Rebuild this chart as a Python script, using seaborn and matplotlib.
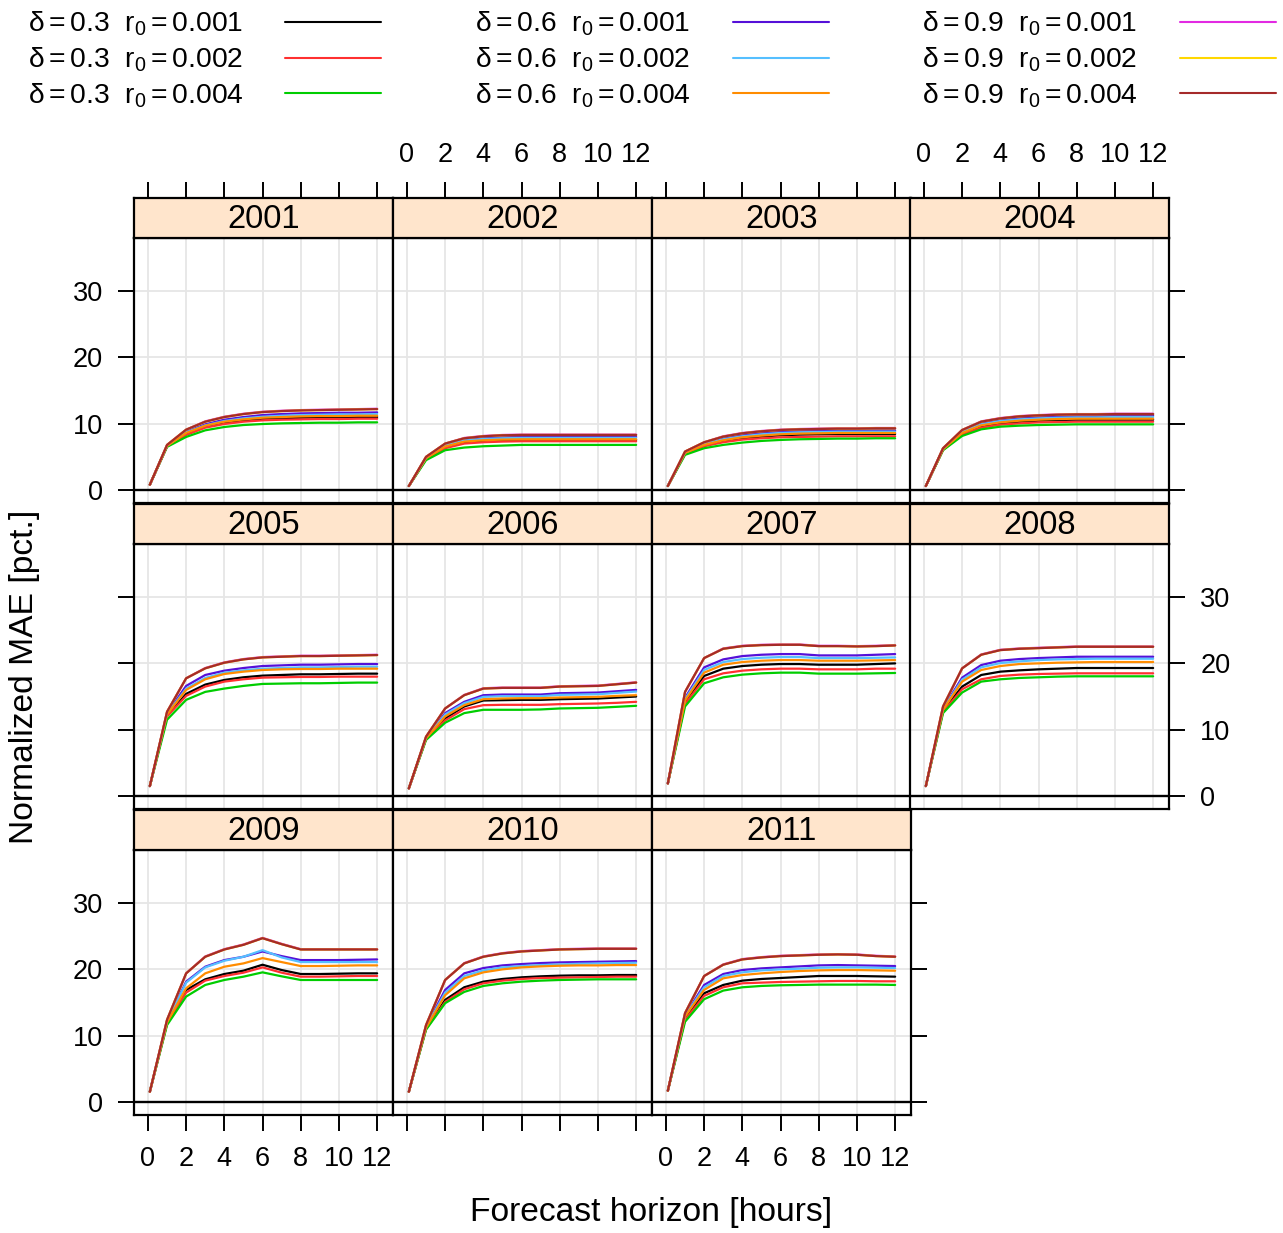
import numpy as np
import pandas as pd
import matplotlib
matplotlib.use("Agg")
import matplotlib.pyplot as plt
import seaborn as sns
from matplotlib.lines import Line2D

# ---------------- data ----------------
hours = [0.1, 1, 2, 3, 4, 5, 6, 7, 8, 9, 10, 11, 12]
years = [2001, 2002, 2003, 2004, 2005, 2006, 2007, 2008, 2009, 2010, 2011]
deltas = ["0.3", "0.3", "0.3", "0.6", "0.6", "0.6", "0.9", "0.9", "0.9"]
r0s = ["0.001", "0.002", "0.004", "0.001", "0.002", "0.004", "0.001", "0.002", "0.004"]
colors = ["#000000", "#FF3030", "#00CD00", "#5510D8", "#55BFFF", "#FF8C00",
          "#E22AE2", "#FFD700", "#A52A2A"]

# order of rows in each year: black, red, green, blue, lightblue, orange, magenta, gold, brown
mae_2001 = [
    [0.8, 6.6, 8.5, 9.6, 10.2, 10.5, 10.75, 10.85, 10.9, 10.95, 10.95, 11.0, 11.0],
    [0.8, 6.6, 8.3, 9.4, 9.95, 10.3, 10.5, 10.6, 10.65, 10.7, 10.7, 10.75, 10.75],
    [0.8, 6.5, 8.0, 9.0, 9.5, 9.8, 9.95, 10.05, 10.1, 10.15, 10.15, 10.2, 10.2],
    [0.8, 6.7, 8.8, 9.9, 10.6, 11.0, 11.3, 11.45, 11.55, 11.6, 11.65, 11.65, 11.7],
    [0.8, 6.7, 8.7, 9.75, 10.4, 10.8, 11.05, 11.2, 11.3, 11.35, 11.4, 11.4, 11.45],
    [0.8, 6.65, 8.6, 9.7, 10.3, 10.65, 10.9, 11.0, 11.1, 11.15, 11.15, 11.2, 11.2],
    [0.8, 6.8, 9.1, 10.35, 11.05, 11.5, 11.8, 11.95, 12.05, 12.1, 12.15, 12.2, 12.25],
    [0.8, 6.8, 9.1, 10.3, 11.0, 11.45, 11.75, 11.9, 12.0, 12.05, 12.1, 12.15, 12.2],
    [0.8, 6.8, 9.1, 10.3, 11.0, 11.45, 11.75, 11.9, 12.0, 12.05, 12.1, 12.15, 12.2],
]
mae_2002 = [
    [0.6, 4.75, 6.45, 7.15, 7.4, 7.5, 7.55, 7.55, 7.55, 7.55, 7.55, 7.55, 7.55],
    [0.6, 4.7, 6.3, 7.0, 7.2, 7.3, 7.35, 7.35, 7.35, 7.35, 7.35, 7.35, 7.35],
    [0.6, 4.5, 6.0, 6.4, 6.6, 6.7, 6.8, 6.8, 6.8, 6.8, 6.8, 6.8, 6.8],
    [0.6, 4.9, 6.8, 7.6, 7.85, 7.95, 8.0, 8.0, 8.0, 8.0, 8.0, 8.0, 8.0],
    [0.6, 4.85, 6.7, 7.45, 7.7, 7.8, 7.85, 7.85, 7.85, 7.85, 7.85, 7.85, 7.85],
    [0.6, 4.8, 6.55, 7.3, 7.5, 7.6, 7.65, 7.65, 7.65, 7.65, 7.65, 7.65, 7.65],
    [0.6, 5.0, 7.0, 7.85, 8.15, 8.3, 8.35, 8.35, 8.35, 8.35, 8.35, 8.35, 8.35],
    [0.6, 5.0, 7.0, 7.8, 8.1, 8.25, 8.3, 8.3, 8.3, 8.3, 8.3, 8.3, 8.3],
    [0.6, 5.0, 7.0, 7.8, 8.1, 8.25, 8.3, 8.3, 8.3, 8.3, 8.3, 8.3, 8.3],
]
mae_2003 = [
    [0.6, 5.55, 6.7, 7.4, 7.8, 8.05, 8.25, 8.35, 8.4, 8.45, 8.45, 8.45, 8.45],
    [0.6, 5.5, 6.6, 7.2, 7.6, 7.8, 7.95, 8.0, 8.05, 8.1, 8.1, 8.1, 8.1],
    [0.6, 5.3, 6.3, 6.8, 7.15, 7.4, 7.55, 7.65, 7.7, 7.75, 7.75, 7.8, 7.8],
    [0.6, 5.7, 7.0, 7.8, 8.3, 8.6, 8.8, 8.9, 8.95, 9.0, 9.0, 9.0, 9.0],
    [0.6, 5.65, 6.9, 7.65, 8.1, 8.4, 8.6, 8.7, 8.75, 8.8, 8.8, 8.8, 8.8],
    [0.6, 5.6, 6.8, 7.5, 7.95, 8.2, 8.4, 8.5, 8.55, 8.6, 8.6, 8.6, 8.6],
    [0.6, 5.8, 7.2, 8.1, 8.6, 8.9, 9.1, 9.2, 9.25, 9.3, 9.3, 9.35, 9.35],
    [0.6, 5.8, 7.2, 8.05, 8.55, 8.85, 9.05, 9.15, 9.2, 9.25, 9.25, 9.3, 9.3],
    [0.6, 5.8, 7.2, 8.05, 8.55, 8.85, 9.05, 9.15, 9.2, 9.25, 9.25, 9.3, 9.3],
]
mae_2004 = [
    [0.6, 6.1, 8.5, 9.6, 10.05, 10.3, 10.45, 10.55, 10.6, 10.6, 10.6, 10.6, 10.6],
    [0.6, 6.05, 8.35, 9.4, 9.85, 10.05, 10.2, 10.25, 10.3, 10.3, 10.3, 10.3, 10.3],
    [0.6, 6.0, 8.15, 9.15, 9.55, 9.7, 9.8, 9.85, 9.9, 9.9, 9.9, 9.9, 9.9],
    [0.6, 6.25, 8.85, 10.05, 10.55, 10.85, 11.0, 11.1, 11.15, 11.15, 11.2, 11.2, 11.2],
    [0.6, 6.2, 8.75, 9.9, 10.4, 10.65, 10.8, 10.9, 10.95, 10.95, 11.0, 11.0, 11.0],
    [0.6, 6.15, 8.6, 9.75, 10.2, 10.45, 10.6, 10.7, 10.75, 10.75, 10.75, 10.75, 10.75],
    [0.6, 6.3, 9.05, 10.35, 10.85, 11.15, 11.3, 11.4, 11.45, 11.45, 11.5, 11.5, 11.5],
    [0.6, 6.3, 9.05, 10.3, 10.8, 11.1, 11.25, 11.35, 11.4, 11.4, 11.45, 11.45, 11.45],
    [0.6, 6.3, 9.05, 10.3, 10.8, 11.1, 11.25, 11.35, 11.4, 11.4, 11.45, 11.45, 11.45],
]
mae_2005 = [
    [1.5, 12.1, 15.4, 16.8, 17.5, 17.9, 18.15, 18.25, 18.35, 18.35, 18.4, 18.45, 18.45],
    [1.5, 12.0, 15.1, 16.5, 17.25, 17.6, 17.85, 17.9, 17.95, 17.95, 18.0, 18.0, 18.0],
    [1.5, 11.5, 14.5, 15.7, 16.2, 16.6, 16.9, 16.95, 17.0, 17.0, 17.05, 17.1, 17.1],
    [1.5, 12.5, 16.6, 18.25, 18.9, 19.3, 19.6, 19.7, 19.8, 19.8, 19.85, 19.9, 19.9],
    [1.5, 12.4, 16.2, 17.8, 18.6, 18.95, 19.2, 19.3, 19.4, 19.4, 19.45, 19.5, 19.5],
    [1.5, 12.3, 16.0, 17.6, 18.4, 18.75, 19.0, 19.1, 19.15, 19.15, 19.2, 19.2, 19.2],
    [1.5, 12.7, 17.75, 19.3, 20.15, 20.65, 20.95, 21.05, 21.15, 21.15, 21.2, 21.25, 21.3],
    [1.5, 12.7, 17.75, 19.25, 20.1, 20.6, 20.9, 21.0, 21.1, 21.1, 21.15, 21.2, 21.25],
    [1.5, 12.7, 17.75, 19.25, 20.1, 20.6, 20.9, 21.0, 21.1, 21.1, 21.15, 21.2, 21.25],
]
mae_2006 = [
    [1.15, 8.65, 11.7, 13.5, 14.4, 14.45, 14.5, 14.5, 14.6, 14.65, 14.7, 14.85, 15.0],
    [1.15, 8.6, 11.4, 13.1, 13.7, 13.75, 13.75, 13.75, 13.85, 13.9, 13.95, 14.05, 14.2],
    [1.15, 8.45, 11.05, 12.5, 13.0, 13.0, 13.0, 13.05, 13.2, 13.25, 13.3, 13.45, 13.6],
    [1.15, 8.8, 12.5, 14.2, 15.2, 15.3, 15.3, 15.3, 15.5, 15.55, 15.6, 15.8, 16.0],
    [1.15, 8.75, 12.3, 14.0, 14.95, 15.05, 15.05, 15.05, 15.25, 15.3, 15.35, 15.55, 15.75],
    [1.15, 8.7, 12.0, 13.7, 14.6, 14.7, 14.75, 14.75, 14.85, 14.9, 14.95, 15.1, 15.2],
    [1.15, 8.95, 13.2, 15.25, 16.25, 16.35, 16.35, 16.35, 16.55, 16.6, 16.65, 16.9, 17.15],
    [1.15, 8.95, 13.2, 15.2, 16.2, 16.3, 16.3, 16.3, 16.5, 16.55, 16.6, 16.85, 17.1],
    [1.15, 8.95, 13.2, 15.2, 16.2, 16.3, 16.3, 16.3, 16.5, 16.55, 16.6, 16.85, 17.1],
]
mae_2007 = [
    [1.9, 14.2, 18.1, 19.2, 19.6, 19.8, 19.9, 19.9, 19.8, 19.8, 19.8, 19.9, 20.0],
    [1.9, 13.9, 17.6, 18.5, 18.9, 19.1, 19.2, 19.2, 19.1, 19.1, 19.1, 19.2, 19.2],
    [1.9, 13.5, 17.0, 17.9, 18.3, 18.5, 18.6, 18.6, 18.45, 18.45, 18.45, 18.5, 18.55],
    [1.9, 14.8, 19.4, 20.6, 21.1, 21.3, 21.4, 21.4, 21.2, 21.2, 21.2, 21.3, 21.4],
    [1.9, 14.6, 19.0, 20.2, 20.65, 20.85, 20.95, 20.95, 20.8, 20.8, 20.8, 20.85, 20.9],
    [1.9, 14.4, 18.6, 19.8, 20.2, 20.4, 20.5, 20.5, 20.4, 20.4, 20.4, 20.45, 20.5],
    [1.9, 15.7, 20.8, 22.25, 22.65, 22.8, 22.85, 22.85, 22.65, 22.65, 22.6, 22.65, 22.75],
    [1.9, 15.7, 20.8, 22.2, 22.6, 22.75, 22.8, 22.8, 22.6, 22.6, 22.55, 22.6, 22.7],
    [1.9, 15.7, 20.8, 22.2, 22.6, 22.75, 22.8, 22.8, 22.6, 22.6, 22.55, 22.6, 22.7],
]
mae_2008 = [
    [1.5, 12.9, 16.5, 18.25, 18.75, 18.95, 19.1, 19.2, 19.3, 19.3, 19.3, 19.3, 19.3],
    [1.5, 12.7, 16.1, 17.6, 18.1, 18.3, 18.4, 18.45, 18.5, 18.5, 18.5, 18.5, 18.5],
    [1.5, 12.5, 15.6, 17.25, 17.6, 17.8, 17.9, 18.0, 18.05, 18.05, 18.05, 18.05, 18.05],
    [1.5, 13.2, 17.85, 19.75, 20.4, 20.65, 20.8, 20.9, 21.0, 21.0, 21.0, 21.0, 21.0],
    [1.5, 13.1, 17.55, 19.4, 20.05, 20.3, 20.5, 20.6, 20.65, 20.7, 20.7, 20.7, 20.7],
    [1.5, 13.0, 17.25, 19.0, 19.6, 19.9, 20.0, 20.1, 20.15, 20.2, 20.2, 20.2, 20.2],
    [1.5, 13.5, 19.25, 21.35, 22.05, 22.25, 22.35, 22.45, 22.55, 22.55, 22.55, 22.55, 22.55],
    [1.5, 13.5, 19.25, 21.3, 22.0, 22.2, 22.3, 22.4, 22.5, 22.5, 22.5, 22.5, 22.5],
    [1.5, 13.5, 19.25, 21.3, 22.0, 22.2, 22.3, 22.4, 22.5, 22.5, 22.5, 22.5, 22.5],
]
mae_2009 = [
    [1.55, 11.9, 16.9, 18.5, 19.3, 19.8, 20.7, 19.9, 19.3, 19.3, 19.35, 19.4, 19.4],
    [1.55, 11.8, 16.5, 18.3, 19.0, 19.5, 20.3, 19.5, 18.9, 18.9, 18.95, 19.0, 19.0],
    [1.55, 11.6, 15.9, 17.65, 18.4, 18.9, 19.55, 18.95, 18.4, 18.4, 18.4, 18.4, 18.4],
    [1.55, 12.2, 18.15, 20.4, 21.4, 21.9, 22.7, 22.0, 21.4, 21.4, 21.4, 21.45, 21.5],
    [1.55, 12.1, 18.0, 20.3, 21.3, 21.9, 22.9, 21.8, 21.1, 21.1, 21.1, 21.1, 21.1],
    [1.55, 12.0, 17.15, 19.4, 20.4, 20.9, 21.7, 21.1, 20.5, 20.5, 20.55, 20.6, 20.6],
    [1.55, 12.4, 19.4, 21.95, 23.05, 23.75, 24.75, 23.85, 23.05, 23.05, 23.05, 23.05, 23.05],
    [1.55, 12.4, 19.4, 21.9, 23.0, 23.7, 24.7, 23.8, 23.0, 23.0, 23.0, 23.0, 23.0],
    [1.55, 12.4, 19.4, 21.9, 23.0, 23.7, 24.7, 23.8, 23.0, 23.0, 23.0, 23.0, 23.0],
]
mae_2010 = [
    [1.55, 11.1, 15.4, 17.3, 18.15, 18.55, 18.8, 18.95, 19.05, 19.1, 19.1, 19.15, 19.15],
    [1.55, 11.0, 15.1, 17.0, 17.9, 18.3, 18.55, 18.7, 18.75, 18.8, 18.85, 18.9, 18.9],
    [1.55, 10.9, 14.9, 16.6, 17.5, 17.9, 18.15, 18.3, 18.4, 18.45, 18.5, 18.5, 18.5],
    [1.55, 11.4, 16.9, 19.4, 20.2, 20.6, 20.8, 20.95, 21.05, 21.1, 21.15, 21.2, 21.25],
    [1.55, 11.3, 16.5, 19.0, 19.85, 20.3, 20.5, 20.65, 20.75, 20.85, 20.9, 20.95, 21.0],
    [1.55, 11.2, 16.1, 18.65, 19.55, 20.0, 20.3, 20.45, 20.55, 20.6, 20.6, 20.65, 20.65],
    [1.55, 11.6, 18.4, 20.95, 21.95, 22.45, 22.75, 22.9, 23.05, 23.1, 23.15, 23.15, 23.15],
    [1.55, 11.6, 18.4, 20.9, 21.9, 22.4, 22.7, 22.85, 23.0, 23.05, 23.1, 23.1, 23.1],
    [1.55, 11.6, 18.4, 20.9, 21.9, 22.4, 22.7, 22.85, 23.0, 23.05, 23.1, 23.1, 23.1],
]
mae_2011 = [
    [1.7, 12.6, 16.4, 17.65, 18.3, 18.55, 18.7, 18.85, 19.0, 19.0, 19.0, 18.95, 18.9],
    [1.7, 12.4, 16.0, 17.3, 17.9, 18.0, 18.1, 18.15, 18.2, 18.25, 18.25, 18.2, 18.2],
    [1.7, 12.1, 15.5, 16.8, 17.3, 17.5, 17.6, 17.65, 17.7, 17.7, 17.7, 17.7, 17.65],
    [1.7, 13.1, 17.65, 19.3, 19.9, 20.15, 20.3, 20.45, 20.6, 20.65, 20.6, 20.55, 20.5],
    [1.7, 13.0, 17.3, 19.0, 19.55, 19.85, 20.0, 20.1, 20.25, 20.3, 20.3, 20.25, 20.2],
    [1.7, 12.9, 16.9, 18.65, 19.15, 19.4, 19.6, 19.75, 19.85, 19.9, 19.9, 19.85, 19.8],
    [1.7, 13.4, 19.0, 20.75, 21.55, 21.85, 22.05, 22.15, 22.25, 22.3, 22.25, 22.05, 21.95],
    [1.7, 13.4, 19.0, 20.7, 21.5, 21.8, 22.0, 22.1, 22.2, 22.25, 22.2, 22.0, 21.9],
    [1.7, 13.4, 19.0, 20.7, 21.5, 21.8, 22.0, 22.1, 22.2, 22.25, 22.2, 22.0, 21.9],
]
mae_by_year = {2001: mae_2001, 2002: mae_2002, 2003: mae_2003, 2004: mae_2004,
               2005: mae_2005, 2006: mae_2006, 2007: mae_2007, 2008: mae_2008,
               2009: mae_2009, 2010: mae_2010, 2011: mae_2011}

configs = [f"d{d}_r{r}" for d, r in zip(deltas, r0s)]
rows = []
for yr in years:
    for ci, cfg in enumerate(configs):
        for h, v in zip(hours, mae_by_year[yr][ci]):
            rows.append((yr, cfg, h, v))
df = pd.DataFrame(rows, columns=["year", "config", "hour", "mae"])

# ---------------- style ----------------
sns.set_style("white")
plt.rcParams["font.family"] = ["Liberation Sans", "DejaVu Sans"]
plt.rcParams["mathtext.fontset"] = "custom"
plt.rcParams["mathtext.rm"] = "Liberation Sans"
plt.rcParams["mathtext.it"] = "Liberation Sans"
plt.rcParams["mathtext.bf"] = "Liberation Sans:bold"
plt.rcParams["text.color"] = "black"
plt.rcParams["axes.labelcolor"] = "black"
plt.rcParams["xtick.color"] = "black"
plt.rcParams["ytick.color"] = "black"

W, H = 1283, 1233
fig = plt.figure(figsize=(W / 100, H / 100), dpi=100)


def rect(x, y, w, h):
    return [x / W, 1 - (y + h) / H, w / W, h / H]


col_x = [134, 393, 652, 910]
pw = 259
row_top = [238, 544, 850]
ph = 265
sh = 40
XLIM = (-0.73, 12.83)
YLIM = (-1.96, 38.0)
TICK_FS = 19.5
LW_FRAME = 1.6
TLEN, TW = 11.5, 1.4

for k, yr in enumerate(years):
    r, c = divmod(k, 4)
    ax = fig.add_axes(rect(col_x[c], row_top[r], pw, ph))
    sub = df[df.year == yr]
    sns.lineplot(data=sub, x="hour", y="mae", hue="config", hue_order=configs,
                 palette=colors, ax=ax, legend=False, lw=1.6,
                 estimator=None, sort=False, zorder=3)
    ax.axhline(0, color="black", lw=1.7, zorder=2.5)
    ax.set_xlim(*XLIM)
    ax.set_ylim(*YLIM)
    ax.set_xticks(range(0, 13, 2))
    ax.set_yticks([0, 10, 20, 30])
    ax.grid(True, color="#E6E6E6", lw=1.3)
    ax.set_axisbelow(True)
    ax.set_xlabel("")
    ax.set_ylabel("")
    for s in ax.spines.values():
        s.set_color("black")
        s.set_linewidth(LW_FRAME)
    left = c == 0
    right = (c == 3) or (yr == years[-1])
    bottom = r == 2
    ax.tick_params(axis="y", left=left, right=right,
                   labelleft=left and r != 1, labelright=(c == 3 and r == 1),
                   direction="out", length=TLEN, width=TW, pad=11,
                   labelsize=TICK_FS, colors="black")
    ax.tick_params(axis="x", bottom=bottom, top=False,
                   labelbottom=(bottom and c != 1), labeltop=False,
                   direction="out", length=TLEN, width=TW, pad=11,
                   labelsize=TICK_FS, colors="black")

    # strip
    sax = fig.add_axes(rect(col_x[c], row_top[r] - sh, pw, sh))
    sax.set_facecolor("#FFE5CC")
    sax.set_xlim(*XLIM)
    sax.set_ylim(0, 1)
    sax.set_yticks([])
    sax.set_xticks(range(0, 13, 2))
    for s in sax.spines.values():
        s.set_color("black")
        s.set_linewidth(LW_FRAME)
    sax.tick_params(axis="x", bottom=False, labelbottom=False,
                    top=(r == 0), labeltop=(r == 0 and c in (1, 3)),
                    direction="out", length=TLEN, width=TW, pad=10,
                    labelsize=TICK_FS, colors="black")
    sax.text(0.5, 0.47, str(yr), transform=sax.transAxes, ha="center",
             va="center", fontsize=23.5, color="black")

# axis titles
fig.text(25 / W, 1 - 677 / H, "Normalized MAE [pct.]", rotation=90,
         ha="center", va="center", fontsize=24.2, color="black")
fig.text(651 / W, 1 - 1213 / H, "Forecast horizon [hours]",
         ha="center", va="center", fontsize=24.2, color="black")

# legend (key: text then line, 3 columns)
text_x = [28, 475, 922]
line_x = [(285, 381), (733, 829), (1180, 1276)]
line_y = [22, 58, 93]
for i in range(9):
    col, row = divmod(i, 3)
    y = line_y[row]
    lab = r"$\delta = %s\ \ \mathrm{r}_0 = %s$" % (deltas[i], r0s[i])
    fig.text(text_x[col] / W, 1 - (y + 10) / H, lab, ha="left",
             va="baseline", fontsize=20.3, color="black")
    fig.add_artist(Line2D([line_x[col][0] / W, line_x[col][1] / W],
                          [1 - y / H, 1 - y / H], color=colors[i], lw=1.5,
                          transform=fig.transFigure))

fig.savefig("out.png", dpi=100)
